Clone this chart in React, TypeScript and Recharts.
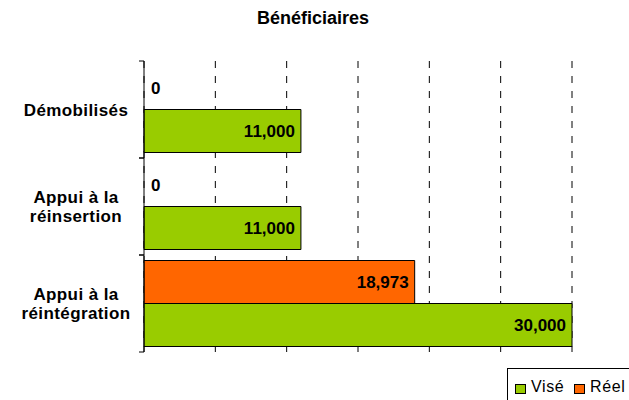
import { BarChart, Bar, XAxis, YAxis, CartesianGrid, LabelList } from 'recharts';

const categories = ['Démobilisés', 'Appui à la\nréinsertion', 'Appui à la\nréintégration'];
const vise = [11000, 11000, 30000];
const reel = [0, 0, 18973];
const xTicks = [0, 5000, 10000, 15000, 20000, 25000, 30000];
const legendItems = [
  { label: 'Visé', color: '#99CC00' },
  { label: 'Réel', color: '#FF6600' },
];

const data = categories.map((name, i) => ({ name, vise: vise[i], reel: reel[i] }));

const FONT = '"Liberation Sans", Arial, sans-serif';

function CategoryTick(props: any) {
  const { x, y, payload } = props;
  const lines = String(payload.value).split('\n');
  const lh = 19;
  const half = payload.offset || 48.5;
  return (
    <g>
      {/* boundary ticks, Excel style */}
      <line x1={x - 5} x2={x} y1={y - half} y2={y - half} stroke="#000" />
      <line x1={x - 5} x2={x} y1={y + half} y2={y + half} stroke="#000" />
      {lines.map((line, i) => (
        <text
          key={i}
          x={76}
          y={y + (i - (lines.length - 1) / 2) * lh}
          dy={6}
          textAnchor="middle"
          fontFamily={FONT}
          fontWeight="bold"
          fontSize={17}
          letterSpacing={0.4}
          fill="#000"
        >
          {line}
        </text>
      ))}
    </g>
  );
}

function BarValue(props: any) {
  const { x, y, width, height, value } = props;
  if (value === 0) return null;
  return (
    <text
      x={x + width - 6}
      y={y + height / 2}
      dy={6}
      textAnchor="end"
      fontFamily={FONT}
      fontWeight="bold"
      fontSize={17}
      fill="#000"
    >
      {Number(value).toLocaleString('en-US')}
    </text>
  );
}

// zero "Réel" values: the bar has no size, so label it from the Visé bar just below
function ZeroAbove(props: any) {
  const { x, y, height, value } = props;
  if (value !== 0) return null;
  return (
    <text
      x={x + 7}
      y={y - height / 2}
      dy={6}
      textAnchor="start"
      fontFamily={FONT}
      fontWeight="bold"
      fontSize={17}
      fill="#000"
    >
      0
    </text>
  );
}

export default function App() {
  return (
    <div style={{ position: 'absolute', left: 0, top: 0, width: 629, height: 400, background: '#fff', fontFamily: FONT }}>
      <div
        style={{
          position: 'absolute', left: 0, top: 8, width: 626, textAlign: 'center',
          fontSize: 18, fontWeight: 'bold', color: '#000',
        }}
      >
        Bénéficiaires
      </div>

      <BarChart
        width={629}
        height={400}
        data={data}
        layout="vertical"
        margin={{ top: 61, right: 57, bottom: 48, left: 0 }}
        barCategoryGap={5.5}
        barGap={0}
      >
        <CartesianGrid horizontal={false} stroke="#000" strokeDasharray="7 8" />
        <XAxis type="number" domain={[0, 30000]} ticks={xTicks} hide />
        <YAxis
          type="category"
          dataKey="name"
          width={144}
          axisLine={{ stroke: '#000' }}
          tickLine={false}
          tickSize={0}
          tickMargin={0}
          tick={<CategoryTick />}
        />
        <Bar dataKey="reel" name="Réel" fill="#FF6600" stroke="#000" strokeWidth={1} isAnimationActive={false}>
          <LabelList dataKey="reel" content={<BarValue />} />
        </Bar>
        <Bar dataKey="vise" name="Visé" fill="#99CC00" stroke="#000" strokeWidth={1} isAnimationActive={false}>
          <LabelList dataKey="vise" content={<BarValue />} />
          <LabelList dataKey="reel" content={<ZeroAbove />} />
        </Bar>
      </BarChart>

      <div
        style={{
          position: 'absolute', left: 507, top: 368, width: 130, height: 40,
          border: '1px solid #000', boxSizing: 'border-box',
        }}
      >
        {legendItems.map((item, i) => (
          <div
            key={item.label}
            style={{
              position: 'absolute', left: i === 0 ? 7 : 66, top: 9,
              display: 'flex', alignItems: 'center', fontSize: 16, letterSpacing: 0.6, color: '#000',
            }}
          >
            <span
              style={{
                display: 'inline-block', width: 11, height: 10, background: item.color,
                border: '1px solid #000', boxSizing: 'border-box', marginRight: 5, marginTop: 3,
              }}
            />
            {item.label}
          </div>
        ))}
      </div>
    </div>
  );
}
